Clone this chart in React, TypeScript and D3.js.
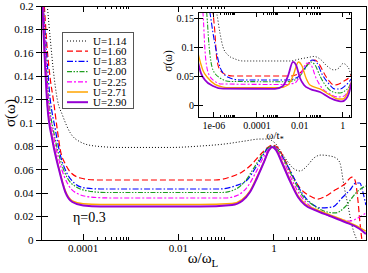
import * as d3 from "d3";
import { useEffect, useRef } from "react";

// legend entries, one per U value
const uLabels = ["U=1.14", "U=1.60", "U=1.83", "U=2.00", "U=2.25", "U=2.71", "U=2.90"];

// main panel, [omega/omega_L, sigma]
const main114 = [[1.79e-5,0.2],[2.07e-5,0.171],[2.39e-5,0.145],[2.9e-5,0.12],[3.69e-5,0.107],[5.42e-5,0.0915],[8.8e-5,0.0838],[1.81e-4,0.0803],[6.03e-4,0.0791],[6.7e-3,0.0791],[0.0284,0.0803],[0.0949,0.0821],[0.248,0.0846],[0.512,0.0863],[0.718,0.0863],[1.05,0.0829],[1.71,0.0701],[2.51,0.0615],[3.52,0.059],[4.92,0.0632],[6.9,0.0701],[9.68,0.0726],[14.9,0.0718],[19.9,0.0701],[24.2,0.0658],[29.2,0.047],[35.5,0.0299],[43.0,0.0128],[54.8,0]];
const main160 = [[1.55e-5,0.2],[1.79e-5,0.162],[2.07e-5,0.137],[2.39e-5,0.12],[2.9e-5,0.094],[3.35e-5,0.0769],[4.26e-5,0.065],[5.42e-5,0.0581],[8.8e-5,0.053],[1.81e-4,0.0513],[0.0586,0.0513],[0.121,0.0538],[0.215,0.0581],[0.348,0.065],[0.512,0.0726],[0.718,0.0786],[0.912,0.0812],[1.16,0.0795],[1.63,0.0701],[2.39,0.0556],[3.52,0.0444],[5.69,0.0376],[8.37,0.035],[12.3,0.0376],[19.0,0.0427],[30.7,0.0479],[43.0,0.0538],[49.8,0.0513],[57.5,0.0342],[63.3,0.0154],[69.7,0]];
const main183 = [[1.48e-5,0.2],[1.71e-5,0.162],[1.97e-5,0.128],[2.64e-5,0.094],[3.35e-5,0.0726],[4.48e-5,0.0581],[6.57e-5,0.0487],[1.12e-4,0.0444],[2.3e-4,0.0436],[0.0745,0.0436],[0.153,0.0462],[0.274,0.0513],[0.422,0.0624],[0.592,0.0726],[0.753,0.0786],[0.957,0.0803],[1.22,0.0769],[1.71,0.0675],[2.51,0.0547],[3.87,0.0402],[6.27,0.0308],[9.68,0.0274],[17.0,0.0282],[26.6,0.0359],[39.1,0.0427],[52.2,0.0487],[63.3,0.0487],[73.1,0.041],[84.5,0.0299]];
const main200 = [[1.48e-5,0.2],[1.63e-5,0.162],[1.88e-5,0.124],[2.51e-5,0.0897],[3.35e-5,0.0684],[4.7e-5,0.053],[7.24e-5,0.0453],[1.29e-4,0.0419],[2.93e-4,0.0406],[0.082,0.0406],[0.161,0.0436],[0.261,0.0513],[0.402,0.0632],[0.564,0.0726],[0.753,0.0786],[0.957,0.0803],[1.22,0.0769],[1.71,0.0667],[2.51,0.053],[3.87,0.0385],[6.58,0.0299],[11.2,0.0248],[19.0,0.0231],[30.7,0.0282],[43.0,0.0359],[54.8,0.041],[69.7,0.0444],[84.5,0.0462]];
const main225 = [[1.48e-5,0.2],[1.63e-5,0.162],[1.88e-5,0.12],[2.51e-5,0.0855],[3.35e-5,0.0641],[4.93e-5,0.047],[7.98e-5,0.0393],[1.42e-4,0.0368],[3.73e-4,0.0359],[0.0949,0.0359],[0.178,0.0385],[0.287,0.0462],[0.422,0.0581],[0.592,0.0701],[0.791,0.0778],[0.957,0.0795],[1.22,0.0761],[1.63,0.0667],[2.39,0.0513],[3.52,0.0385],[5.69,0.0291],[11.7,0.0222],[24.2,0.0179],[39.1,0.0162],[57.5,0.0188],[84.5,0.0231]];
const main271 = [[1.41e-5,0.2],[1.55e-5,0.163],[1.79e-5,0.117],[2.28e-5,0.087],[3.04e-5,0.0635],[4.26e-5,0.042],[5.97e-5,0.0335],[1.01e-4,0.031],[2.3e-4,0.0303],[0.0284,0.0303],[0.133,0.0312],[0.215,0.0345],[0.316,0.042],[0.443,0.054],[0.621,0.067],[0.791,0.077],[0.92,0.0795],[1.11,0.0775],[1.48,0.0668],[2.17,0.0515],[3.19,0.0378],[4.48,0.031],[7.24,0.0265],[14.9,0.0215],[30.7,0.0165],[63.3,0.0105],[84.5,0.0075]];
const main290 = [[1.41e-5,0.2],[1.55e-5,0.162],[1.79e-5,0.115],[2.28e-5,0.0855],[3.04e-5,0.0624],[4.26e-5,0.041],[5.97e-5,0.0325],[1.01e-4,0.0295],[2.3e-4,0.0286],[0.0284,0.0286],[0.133,0.0299],[0.215,0.0333],[0.316,0.041],[0.443,0.053],[0.621,0.0667],[0.791,0.0769],[0.912,0.0795],[1.11,0.0769],[1.48,0.0658],[2.17,0.0504],[3.19,0.0368],[4.48,0.0299],[7.24,0.0256],[14.9,0.0205],[30.7,0.0154],[63.3,0.0094],[84.5,0.0051]];

// inset, [omega/t*, sigma]
const inset114 = [[1.0e-6,0.181],[1.34e-6,0.159],[1.9e-6,0.1245],[2.63e-6,0.1004],[4.5e-6,0.0866],[9.53e-6,0.0798],[2.25e-5,0.0763],[3.49e-3,0.0763],[1.02e-2,0.0798],[2.41e-2,0.0823],[4.59e-2,0.0841],[8.74e-2,0.0798],[0.185,0.0677],[0.393,0.0609],[0.673,0.0643],[1.04,0.072],[1.59,0.0677],[2.19,0.0574],[2.44,0.0488]];
const inset160 = [[6.51e-7,0.181],[8.98e-7,0.159],[1.11e-6,0.1245],[1.34e-6,0.0815],[1.9e-6,0.0609],[3.91e-6,0.0523],[7.69e-6,0.0505],[3.49e-3,0.0505],[1.02e-2,0.0557],[2.41e-2,0.0712],[5.11e-2,0.078],[7.86e-2,0.0712],[0.15,0.0523],[0.256,0.0402],[0.393,0.035],[0.673,0.0368],[1.15,0.0419],[1.77,0.0462],[2.44,0.0523]];
const inset183 = [[4.72e-7,0.181],[6.51e-7,0.159],[8.98e-7,0.1245],[1.34e-6,0.09],[1.9e-6,0.066],[2.63e-6,0.0557],[5.57e-6,0.0471],[1.63e-5,0.0437],[2.82e-3,0.0437],[8.24e-3,0.0488],[1.75e-2,0.0643],[3.91e-2,0.078],[6.34e-2,0.0729],[0.108,0.054],[0.23,0.0368],[0.438,0.0282],[0.749,0.0282],[1.28,0.0334],[1.97,0.0402],[2.44,0.0454]];
const inset200 = [[3.42e-7,0.181],[4.57e-7,0.159],[5.85e-7,0.1038],[8.98e-7,0.0609],[1.9e-6,0.0471],[5.57e-6,0.0411],[2.53e-3,0.0406],[7.4e-3,0.0454],[1.41e-2,0.0574],[3.33e-2,0.0746],[5.11e-2,0.0695],[8.74e-2,0.0505],[0.166,0.0334],[0.353,0.023],[0.749,0.0213],[1.43,0.0265],[1.97,0.0316],[2.44,0.0402]];
const inset225 = [[2.48e-7,0.18],[3.07e-7,0.159],[3.8e-7,0.0952],[5.25e-7,0.0574],[8.98e-7,0.0437],[2.36e-6,0.0368],[2.04e-3,0.0359],[5.97e-3,0.0385],[1.02e-2,0.0505],[2.17e-2,0.0729],[3.33e-2,0.0695],[5.69e-2,0.0471],[0.108,0.0299],[0.256,0.0196],[0.604,0.0144],[1.04,0.0153],[1.77,0.0248],[2.44,0.0368]];
const inset271 = [[1.45e-7,0.105],[1.79e-7,0.09],[3.07e-7,0.06],[5.25e-7,0.047],[1.11e-6,0.036],[2.63e-6,0.0315],[5.0e-6,0.0305],[1.19e-3,0.0305],[2.82e-3,0.035],[4.82e-3,0.0505],[8.69e-3,0.0746],[1.27e-2,0.0677],[1.95e-2,0.0471],[2.99e-2,0.035],[8.74e-2,0.0282],[0.256,0.0179],[0.604,0.011],[1.04,0.011],[1.59,0.0196],[2.44,0.0368],[2.72,0.0437]];
const inset290 = [[1.45e-7,0.09],[1.79e-7,0.075],[2.5e-7,0.055],[3.8e-7,0.0437],[8.98e-7,0.0334],[2.63e-6,0.0288],[6.98e-4,0.0285],[1.65e-3,0.0334],[2.82e-3,0.0505],[4.82e-3,0.0746],[6.65e-3,0.0695],[1.02e-2,0.0471],[1.57e-2,0.035],[2.99e-2,0.0282],[8.74e-2,0.023],[0.256,0.0127],[0.604,0.0076],[0.928,0.0067],[1.43,0.011],[1.97,0.0213],[2.44,0.035],[2.72,0.0437]];

const mainSeries = [main114, main160, main183, main200, main225, main271, main290];
const insetSeries = [inset114, inset160, inset183, inset200, inset225, inset271, inset290];

// ticks
const mainXTicks = [1e-4, 1e-2, 1];
const mainXLabels = ["0.0001", "0.01", "1"];
const mainYTicks = [0, 0.02, 0.04, 0.06, 0.08, 0.1, 0.12, 0.14, 0.16, 0.18, 0.2];
const mainYLabels = ["0", "0.02", "0.04", "0.06", "0.08", "0.1", "0.12", "0.14", "0.16", "0.18", "0.2"];
const insetXTicks = [1e-6, 1e-4, 1e-2, 1];
const insetXLabels = ["1e-06", "0.0001", "0.01", "1"];
const insetYTicks = [0, 0.05, 0.1, 0.15];
const insetYLabels = ["0", "0.05", "0.1", "0.15"];

// line styles
const colors = ["#000000", "#ff0000", "#0000ff", "#1f9e1f", "#ff00ff", "#ffa500", "#9400d3"];
const dashes = ["1,2", "6,3", "6,2,1.5,2", "5,1.5,1.5,1.5,1.5,1.5", "5,2,2,2", null, null];
const widths = [1, 1.2, 1.2, 1.2, 1.2, 1.5, 2];

const FONT = "'Liberation Serif', 'Times New Roman', serif";

function drawPanel(g, id, x, y, xt, xl, yt, yl, series, o) {
  const [x0, x1] = x.range();
  const [y0, y1] = y.range();
  const [d0, d1] = x.domain();
  const minors = xt.flatMap((m) => d3.range(2, 10).map((k) => k * m)).filter((v) => v >= d0 && v <= d1);

  if (o.bg) {
    g.append("rect").attr("x", x0).attr("y", y1).attr("width", x1 - x0).attr("height", y0 - y1).attr("fill", "#fff");
  }

  g.append("clipPath").attr("id", id).append("rect")
    .attr("x", x0).attr("y", y1).attr("width", x1 - x0).attr("height", y0 - y1);

  const line = d3.line().x((d) => x(d[0])).y((d) => y(d[1])).curve(d3.curveMonotoneX);
  g.append("g").attr("clip-path", `url(#${id})`)
    .selectAll("path")
    .data(series)
    .join("path")
    .attr("d", (d) => line(d))
    .attr("fill", "none")
    .attr("stroke", (d, i) => colors[i])
    .attr("stroke-width", (d, i) => widths[i] * o.lw)
    .attr("stroke-dasharray", (d, i) => dashes[i]);

  const t = g.append("g").attr("stroke", "#000").attr("stroke-width", 1).attr("shape-rendering", "crispEdges");
  const vline = (v, len) => {
    t.append("line").attr("x1", x(v)).attr("x2", x(v)).attr("y1", y0).attr("y2", y0 - len);
    t.append("line").attr("x1", x(v)).attr("x2", x(v)).attr("y1", y1).attr("y2", y1 + len);
  };
  xt.forEach((v) => vline(v, o.major));
  minors.forEach((v) => vline(v, o.minor));
  yt.forEach((v) => {
    t.append("line").attr("x1", x0 - o.out).attr("x2", x0 + o.major).attr("y1", y(v)).attr("y2", y(v));
    t.append("line").attr("x1", x1 - o.major).attr("x2", x1).attr("y1", y(v)).attr("y2", y(v));
  });
  t.append("rect").attr("x", x0).attr("y", y1).attr("width", x1 - x0).attr("height", y0 - y1).attr("fill", "none");

  const lab = g.append("g").attr("font-family", FONT).attr("font-size", o.fs).attr("fill", "#000");
  lab.selectAll(".xl").data(xt).join("text")
    .attr("x", (d) => x(d)).attr("y", y0 + o.xlab).attr("text-anchor", "middle")
    .text((d, i) => xl[i]);
  lab.selectAll(".yl").data(yt).join("text")
    .attr("x", x0 - o.ylab).attr("y", (d) => y(d) + o.fs * 0.35).attr("text-anchor", "end")
    .text((d, i) => yl[i]);
}

export default function App() {
  const ref = useRef(null);

  useEffect(() => {
    const svg = d3.select(ref.current);
    svg.selectAll("*").remove();

    const x = d3.scaleLog().domain([1.35e-5, 85]).range([41.5, 366]);
    const y = d3.scaleLinear().domain([0, 0.2]).range([240, 6]);
    const main = svg.append("g");
    drawPanel(main, "clipMain", x, y, mainXTicks, mainXLabels, mainYTicks, mainYLabels, mainSeries,
      { major: 6, minor: 3, out: 6, fs: 11, xlab: 12, ylab: 8, lw: 1, bg: false });

    // axis titles
    main.append("text").attr("transform", "translate(15,113) rotate(-90)")
      .attr("text-anchor", "middle").attr("font-family", FONT).attr("font-size", 15).text("σ(ω)");
    const xt = main.append("text").attr("x", 203).attr("y", 263)
      .attr("text-anchor", "middle").attr("font-family", FONT).attr("font-size", 15);
    xt.append("tspan").text("ω/ω");
    xt.append("tspan").attr("font-size", 11).attr("dy", 4).text("L");
    main.append("text").attr("x", 73).attr("y", 222).attr("font-family", FONT).attr("font-size", 14).text("η=0.3");

    // legend
    const lg = main.append("g");
    lg.append("rect").attr("x", 62.5).attr("y", 32.5).attr("width", 71).attr("height", 76)
      .attr("fill", "#fff").attr("stroke", "#555").attr("stroke-width", 1);
    uLabels.forEach((u, i) => {
      const ry = 41 + i * 10.2;
      lg.append("line").attr("x1", 67).attr("x2", 88).attr("y1", ry).attr("y2", ry)
        .attr("stroke", colors[i]).attr("stroke-width", widths[i])
        .attr("stroke-dasharray", dashes[i]);
      lg.append("text").attr("x", 93).attr("y", ry + 3.8).attr("font-family", FONT)
        .attr("font-size", 11).text(u);
    });

    // inset
    const xi = d3.scaleLog().domain([1.8e-7, 2.44]).range([198, 351]);
    const yi = d3.scaleLinear().domain([-0.02, 0.16]).range([117, 12.3]);
    const ins = svg.append("g");
    drawPanel(ins, "clipInset", xi, yi, insetXTicks, insetXLabels, insetYTicks, insetYLabels, insetSeries,
      { major: 5, minor: 2.5, out: 4, fs: 10, xlab: 11.5, ylab: 4, lw: 0.9, bg: true });
    ins.append("text").attr("transform", "translate(172,61) rotate(-90)")
      .attr("text-anchor", "middle").attr("font-family", FONT).attr("font-size", 11.5).text("σ(ω)");
    const it = ins.append("text").attr("x", 275).attr("y", 139)
      .attr("text-anchor", "middle").attr("font-family", FONT).attr("font-size", 11);
    it.append("tspan").text("ω/t");
    it.append("tspan").attr("font-size", 8).attr("dy", 3).text("*");
  }, []);

  return (
    <svg ref={ref} width={368} height={273}
      style={{ position: "absolute", left: 0, top: 0, background: "#fff" }} />
  );
}
